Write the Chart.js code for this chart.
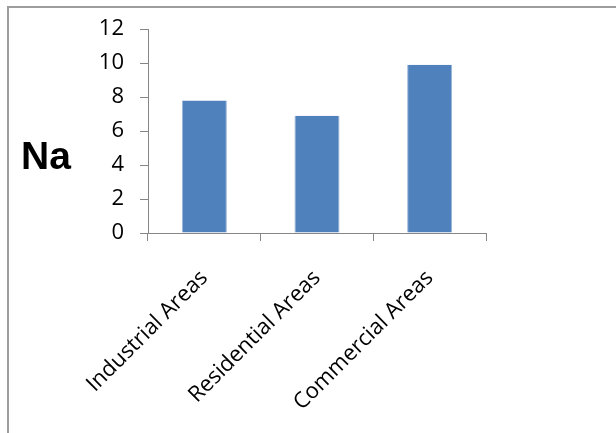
<!DOCTYPE html>
<html>
<head>
<meta charset="utf-8">
<script src="https://cdn.jsdelivr.net/npm/chart.js@4/dist/chart.umd.min.js"></script>
<style>
  html, body { margin: 0; padding: 0; background: #fff; overflow: hidden; }
  #wrap { position: relative; width: 616px; height: 433px; }
  #frame { position: absolute; left: 7px; top: 6px; width: 700px; height: 500px;
           border-top: 2px solid #9c9c9c; border-left: 2px solid #9c9c9c; }
  #c { position: absolute; left: 0; top: 0; }
</style>
</head>
<body>
<div id="wrap">
  <div id="frame"></div>
  <canvas id="c" width="616" height="433"></canvas>
</div>
<script>
const categories = ['Industrial Areas', 'Residential Areas', 'Commercial Areas'];
const naValues = [7.8, 6.9, 9.9];
const axisTitle = 'Na';
const yMin = 0, yMax = 12, yStep = 2;

const axisGray = '#868686';
const tickFont = { family: 'Open Sans', size: 22 };
const catFont = { family: 'Open Sans', size: 22 };

// Horizontal axis title placed to the left of the value axis
const sideTitle = {
  id: 'sideTitle',
  afterDraw(chart) {
    const ctx = chart.ctx;
    ctx.save();
    ctx.font = 'bold 39px "Liberation Sans", Arial, sans-serif';
    ctx.fillStyle = '#000';
    ctx.textAlign = 'left';
    ctx.textBaseline = 'middle';
    ctx.fillText(axisTitle, 21, 158);
    ctx.restore();
  }
};

new Chart(document.getElementById('c'), {
  type: 'bar',
  data: {
    labels: categories,
    datasets: [{
      label: axisTitle,
      data: naValues,
      backgroundColor: '#4f81bd',
      borderColor: '#9ab4d8',
      borderWidth: { left: 1, right: 1, top: 0, bottom: 0 },
      barPercentage: 0.4,
      categoryPercentage: 1.0
    }]
  },
  options: {
    responsive: false,
    animation: false,
    devicePixelRatio: 1,
    layout: { padding: { left: 0, right: 130, top: 24, bottom: 0 } },
    plugins: {
      legend: { display: false },
      tooltip: { enabled: false }
    },
    scales: {
      x: {
        offset: true,
        grid: {
          offset: true,
          drawOnChartArea: false,
          tickLength: 8,
          color: axisGray,
          lineWidth: 1
        },
        border: { color: axisGray, width: 1 },
        ticks: {
          font: catFont,
          color: '#000',
          minRotation: 45,
          maxRotation: 45,
          autoSkip: false,
          padding: 24
        },
        afterFit(scale) { scale.height = 200; }
      },
      y: {
        min: yMin,
        max: yMax,
        grid: {
          drawOnChartArea: false,
          tickLength: 8,
          color: axisGray,
          lineWidth: 1
        },
        border: { color: axisGray, width: 1 },
        ticks: {
          stepSize: yStep,
          font: tickFont,
          color: '#000',
          padding: 16
        },
        afterFit(scale) { scale.width = 148; }
      }
    }
  },
  plugins: [sideTitle]
});
</script>
</body>
</html>
